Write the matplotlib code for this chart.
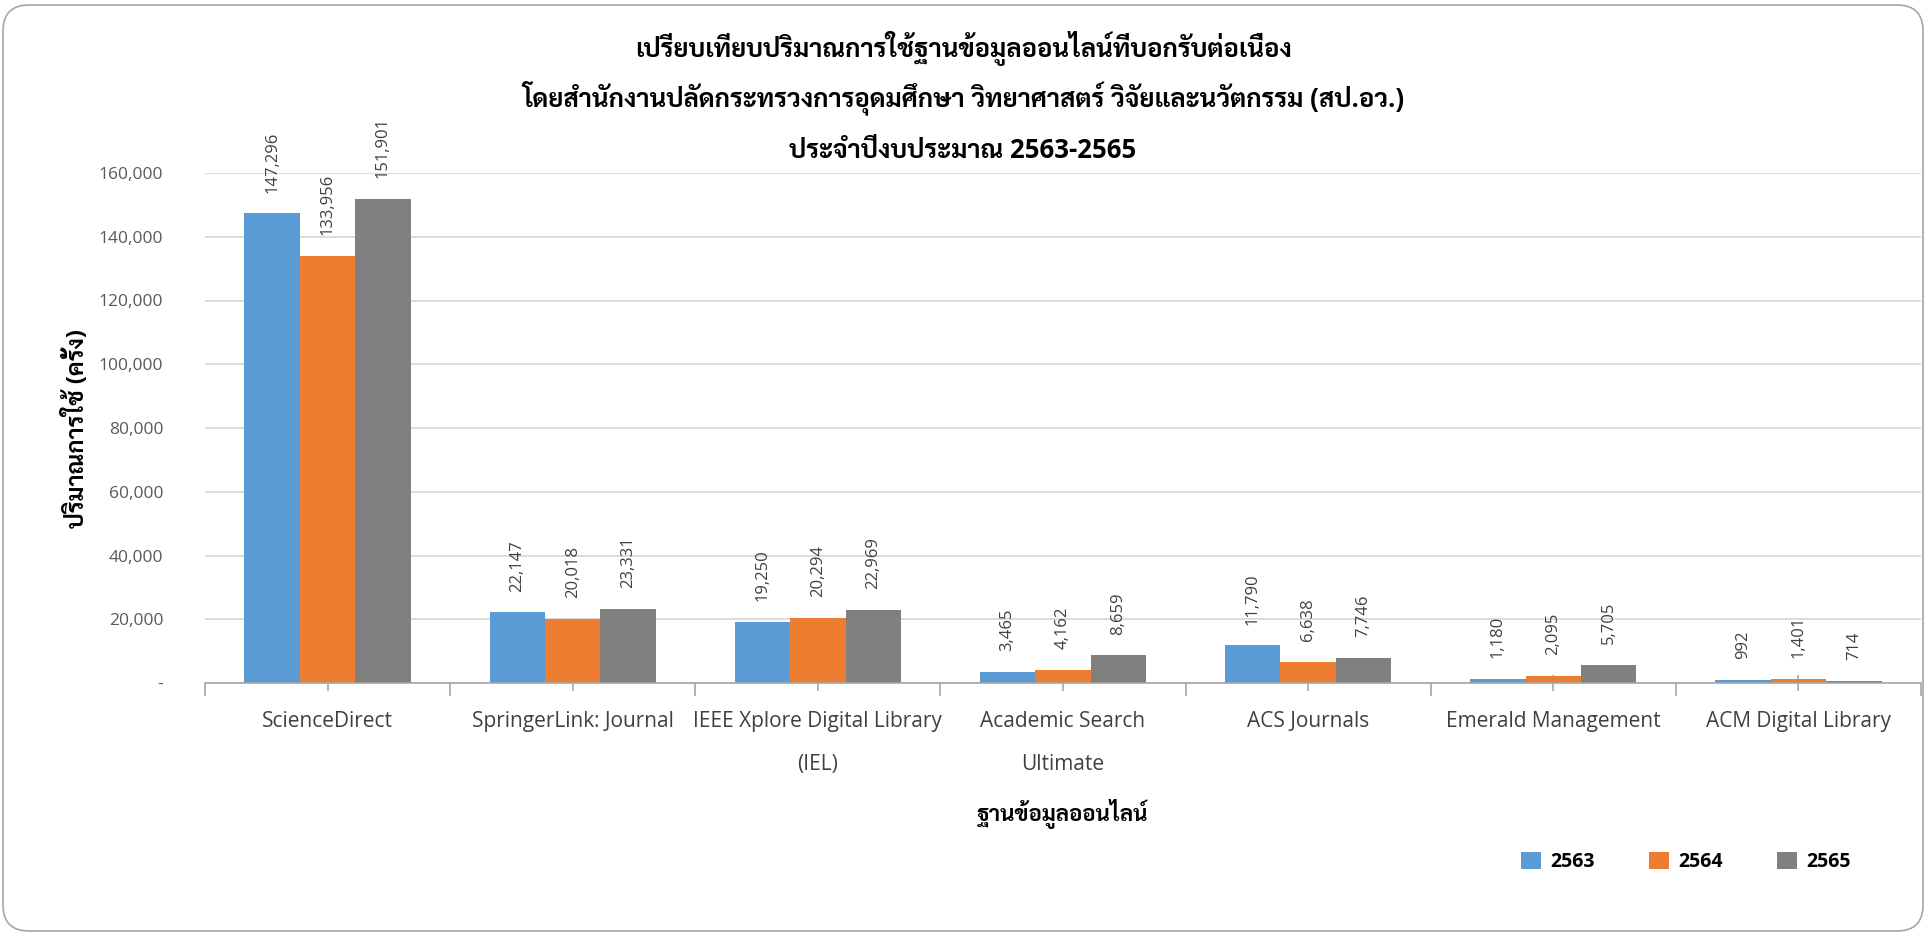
import matplotlib
matplotlib.use("Agg")
import matplotlib.pyplot as plt
from matplotlib import font_manager
from matplotlib.patches import FancyBboxPatch, Patch
from matplotlib.transforms import IdentityTransform
from matplotlib.ticker import FixedLocator, FuncFormatter
import numpy as np

# ---------------- data ----------------
categories = ["ScienceDirect", "SpringerLink: Journal", "IEEE Xplore Digital Library\n(IEL)",
              "Academic Search\nUltimate", "ACS Journals", "Emerald Management", "ACM Digital Library"]
years = ["2563", "2564", "2565"]
values_2563 = [147296, 22147, 19250, 3465, 11790, 1180, 992]
values_2564 = [133956, 20018, 20294, 4162, 6638, 2095, 1401]
values_2565 = [151901, 23331, 22969, 8659, 7746, 5705, 714]
series = [values_2563, values_2564, values_2565]
colors = ["#5B9BD5", "#ED7D31", "#808080"]
yticks = [0, 20000, 40000, 60000, 80000, 100000, 120000, 140000, 160000]
title_lines = ["เปรียบเทียบปริมาณการใช้ฐานข้อมูลออนไลน์ที่บอกรับต่อเนื่อง",
               "โดยสำนักงานปลัดกระทรวงการอุดมศึกษา วิทยาศาสตร์ วิจัยและนวัตกรรม (สป.อว.)",
               "ประจำปีงบประมาณ 2563-2565"]
ylabel = "ปริมาณการใช้ (ครั้ง)"
xlabel = "ฐานข้อมูลออนไลน์"

# ---------------- fonts ----------------
weights = {}
for f in font_manager.fontManager.ttflist:
    if f.style == "normal":
        weights.setdefault(f.name, set()).add(f.weight if isinstance(f.weight, int) else 400)


def pick(cands):
    for c in cands:
        w = weights.get(c, set())
        if 400 in w and any(x >= 700 for x in w):
            return c
    for c in cands:
        if c in weights:
            return c
    return None


thai = pick(["Noto Sans Thai Looped", "Noto Sans Thai", "Sarabun", "IBM Plex Sans Thai Looped",
             "IBM Plex Sans Thai", "Anuphan", "Bai Jamjuree"])
latin = pick(["Noto Sans", "Open Sans", "Lato", "Roboto", "DejaVu Sans"])
fam = [f for f in [latin, thai, "DejaVu Sans"] if f]
plt.rcParams["font.family"] = fam

W, H, DPI = 1926, 934, 100
fig = plt.figure(figsize=(W / DPI, H / DPI), dpi=DPI)
fig.patch.set_facecolor("white")

# rounded border
border = FancyBboxPatch((3, 3), W - 6, H - 8, boxstyle="round,pad=0,rounding_size=26",
                        transform=IdentityTransform(), facecolor="none",
                        edgecolor="#A6A6A6", linewidth=1.2)
fig.patches.append(border)

ax_l, ax_r, ax_t, ax_b = 205, 1921, 173, 683
ax = fig.add_axes([ax_l / W, 1 - ax_b / H, (ax_r - ax_l) / W, (ax_b - ax_t) / H])

x = np.arange(len(categories))
bw = 0.226
for i, (vals, col) in enumerate(zip(series, colors)):
    xs = x + (i - 1) * bw
    ax.bar(xs, vals, width=bw, color=col, label=years[i], zorder=3)
    for xi, v in zip(xs, vals):
        ax.annotate(f"{v:,}", (xi, v), xytext=(0, 15), textcoords="offset points",
                    rotation=90, ha="center", va="bottom", fontsize=12, color="#404040",
                    annotation_clip=False)

ax.set_xlim(-0.5, len(categories) - 0.5)
ax.set_ylim(0, 160000)
ax.set_yticks(yticks)
ax.yaxis.set_major_formatter(FuncFormatter(lambda v, p: "-" if v == 0 else f"{int(v):,}"))
ax.tick_params(axis="y", length=0, labelsize=12.5, labelcolor="#595959", pad=30)
ax.grid(axis="y", color="#D9D9D9", linewidth=1.3, zorder=0)

ax.xaxis.set_major_locator(FixedLocator(np.arange(-0.5, len(categories), 1.0)))
ax.xaxis.set_major_formatter(FuncFormatter(lambda v, p: ""))
ax.xaxis.set_minor_locator(FixedLocator(x))
ax.set_xticklabels(categories, minor=True)
ax.tick_params(axis="x", which="major", direction="out", length=9, width=1.2, color="#A6A6A6")
ax.tick_params(axis="x", which="minor", direction="inout", length=12, width=1.2, color="#A6A6A6",
               labelsize=15, labelcolor="#404040", pad=14)
for lab in ax.get_xticklabels(minor=True):
    lab.set_linespacing(2.4)

for s in ["top", "right", "left"]:
    ax.spines[s].set_visible(False)
ax.spines["bottom"].set_color("#A6A6A6")
ax.spines["bottom"].set_linewidth(1.2)
ax.spines["bottom"].set_zorder(4)
ax.set_axisbelow(True)

# titles
for ty, line in zip([49, 98, 150], title_lines):
    fig.text(0.5, 1 - ty / H, line, ha="center", va="center", fontsize=18.5,
             fontweight="bold", color="black")

fig.text(76 / W, 1 - 428 / H, ylabel, rotation=90, ha="center", va="center",
         fontsize=17, fontweight="bold", color="black")
fig.text((ax_l + ax_r) / 2 / W, 1 - 814 / H, xlabel, ha="center", va="center",
         fontsize=16, fontweight="bold", color="black")

handles = [Patch(facecolor=c, edgecolor="none") for c in colors]
leg = fig.legend(handles, years, loc="center", bbox_to_anchor=(1686 / W, 1 - 862 / H),
                 ncol=3, frameon=False, handlelength=1.0, handleheight=1.0,
                 handletextpad=0.5, columnspacing=2.8,
                 prop={"weight": "bold", "size": 14})

fig.savefig("out.png", dpi=DPI)
